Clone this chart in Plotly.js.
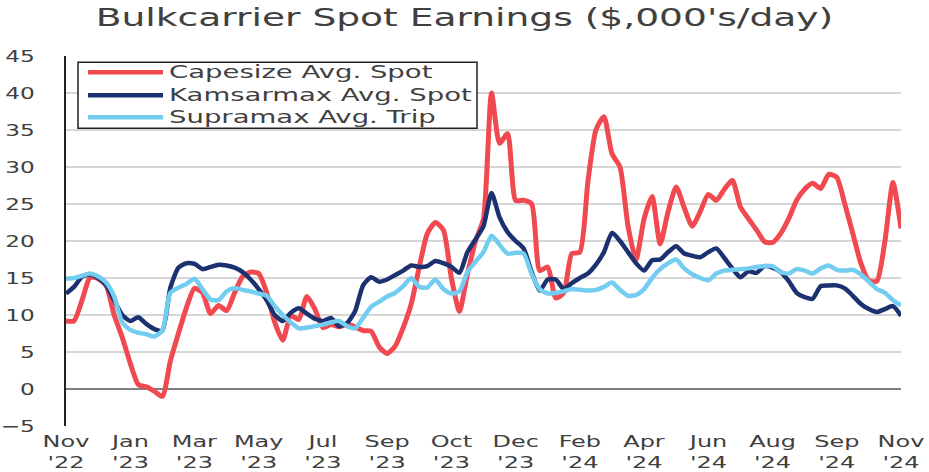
<!DOCTYPE html>
<html>
<head>
<meta charset="utf-8">
<script src="https://cdn.plot.ly/plotly-3.0.1.min.js"></script>
<style>html,body{margin:0;padding:0;background:#fff;}#chart{width:929px;height:472px;}</style>
</head>
<body>
<div id="chart"></div>
<script>
// weekly observations, Nov 2022 .. Nov 2024 (index = week number)
const capesize = [9.2,9.2,12.0,15.1,14.9,14.0,10.0,7.0,3.5,0.6,0.3,-0.3,-1.0,3.8,7.5,11.0,13.6,13.0,10.2,11.3,10.6,13.0,15.2,15.8,15.6,13.0,9.0,6.6,9.9,9.4,12.5,10.8,8.3,8.7,8.4,8.7,8.4,7.9,7.8,5.7,4.8,5.8,8.3,11.5,16.5,21.0,22.5,21.5,15.0,10.5,15.5,20.0,23.0,40.0,33.2,34.5,25.5,25.5,25.0,16.0,16.5,12.3,13.0,18.3,18.5,28.0,35.0,36.8,31.8,30.0,22.0,17.5,23.0,26.0,19.6,24.0,27.3,24.5,22.0,24.0,26.3,25.5,27.0,28.2,24.6,23.0,21.5,19.9,19.8,21.0,23.0,25.5,27.0,27.8,27.1,29.0,28.6,25.0,21.0,17.0,14.6,14.6,20.0,27.9,21.7];
const kamsarmax = [12.9,13.8,15.2,15.5,15.0,14.0,12.0,10.0,9.2,9.7,8.8,8.1,7.9,13.7,16.4,17.0,16.9,16.2,16.5,16.8,16.7,16.4,15.8,14.8,13.5,12.0,10.0,9.2,10.3,10.9,10.2,9.5,9.2,9.6,8.5,8.9,10.5,14.0,15.1,14.5,14.8,15.4,16.0,16.7,16.5,16.6,17.3,17.0,16.5,15.7,18.5,20.2,22.0,26.5,23.2,21.2,20.0,19.0,15.8,13.3,14.8,14.8,13.5,14.3,15.0,15.6,16.8,18.5,21.1,20.0,18.5,17.0,16.0,17.4,17.5,18.5,19.3,18.3,18.0,17.8,18.5,19.0,17.7,16.3,15.1,15.9,15.7,16.6,16.4,15.8,14.6,13.0,12.4,12.2,13.9,14.0,14.0,13.6,12.6,11.5,10.8,10.4,10.8,11.2,9.9];
const supramax = [14.9,15.0,15.3,15.6,15.2,14.4,12.5,9.0,8.0,7.6,7.4,7.1,7.9,13.0,13.7,14.2,14.9,13.5,12.1,12.0,13.2,13.6,13.4,13.2,12.9,12.6,11.2,10.0,9.0,8.2,8.3,8.5,8.7,9.0,9.2,8.5,8.2,9.6,11.1,11.8,12.5,13.0,13.9,15.0,13.8,13.7,14.8,13.5,12.9,13.2,15.8,17.2,18.5,20.7,19.5,18.3,18.4,18.3,15.5,13.5,12.9,13.0,13.2,13.5,13.4,13.3,13.4,13.8,14.4,13.4,12.6,12.7,13.5,15.0,16.2,17.0,17.5,16.3,15.5,15.0,14.7,15.6,16.0,16.1,16.2,16.3,16.5,16.6,16.6,15.8,15.6,16.2,16.0,15.6,16.3,16.7,16.1,16.0,16.1,15.5,14.5,13.5,13.0,12.0,11.3];
const tickWeeks = [0,8,16,24,32,40,48,56,64,72,80,88,96,104];
const tickLabels = ["Nov<br>'22","Jan<br>'23","Mar<br>'23","May<br>'23","Jul<br>'23","Sep<br>'23","Oct<br>'23","Dec<br>'23","Feb<br>'24","Apr<br>'24","Jun<br>'24","Aug<br>'24","Sep<br>'24","Nov<br>'24"];
const seriesNames = ["Capesize Avg. Spot","Kamsarmax Avg. Spot","Supramax Avg. Trip"];
const seriesColors = ["#f04a50","#1c3170","#72cdf0"];

const weeks = capesize.map((_, i) => i);
const allSeries = [capesize, kamsarmax, supramax];
const FONT = "DejaVu Sans, sans-serif";

const traces = allSeries.map((ys, k) => ({
  x: weeks, y: ys, type: 'scatter', mode: 'lines', name: seriesNames[k],
  line: {color: seriesColors[k], width: k === 0 ? 5 : 4.5, shape: 'spline', smoothing: 0.6},
  showlegend: false, hoverinfo: 'skip'
}));

// custom legend (px -> paper)
const L = 66, R = 901, T = 55.7, B = 425.7;
const px = v => (v - L) / (R - L);
const py = v => (B - v) / (B - T);
const shapes = [
  {type:'rect', xref:'paper', yref:'paper', x0:px(78), x1:px(477), y0:py(128), y1:py(62),
   line:{color:'#222', width:1.5}, fillcolor:'#fff', layer:'above'}
];
const annotations = [];
const rows = [72, 95, 117];
seriesNames.forEach((n, k) => {
  shapes.push({type:'line', xref:'paper', yref:'paper', x0:px(88), x1:px(163), y0:py(rows[k]), y1:py(rows[k]),
    line:{color:seriesColors[k], width:4.5}, layer:'above'});
  annotations.push({xref:'paper', yref:'paper', x:px(167), y:py(rows[k]), xanchor:'left', yanchor:'middle',
    text:n, showarrow:false, font:{family:FONT, size:17, color:'#404040'}});
});

const layout = {
  width: 929, height: 472,
  margin: {l: L, r: 929 - R, t: T, b: 472 - B},
  paper_bgcolor: '#fff', plot_bgcolor: '#fff',
  title: {text: "Bulkcarrier Spot Earnings ($,000's/day)", x: 0.5, xanchor: 'center', y: 0.962, yanchor: 'middle',
          font: {family: FONT, size: 24, color: '#404040'}},
  xaxis: {range: [0, 104], tickmode: 'array', tickvals: tickWeeks, ticktext: tickLabels,
          showgrid: false, zeroline: false, showline: false, ticks: '',
          tickfont: {family: FONT, size: 16, color: '#404040'}, ticklabelstandoff: 4},
  yaxis: {range: [-5, 45], tickmode: 'linear', tick0: -5, dtick: 5,
          showgrid: true, gridcolor: '#d6d6d6', gridwidth: 1.5,
          zeroline: true, zerolinecolor: '#808080', zerolinewidth: 2,
          showline: true, linecolor: '#222', linewidth: 2, ticks: '',
          tickfont: {family: FONT, size: 16, color: '#404040'}, ticklabelstandoff: 26},
  shapes: shapes, annotations: annotations, showlegend: false
};

// horizontally widen text to mimic the reference's wide typeface
function widen(el, s, where) {
  const bb = el.getBBox();
  const ax = where === 'left' ? bb.x : where === 'right' ? bb.x + bb.width : bb.x + bb.width / 2;
  const old = el.getAttribute('transform') || '';
  el.setAttribute('transform', (old + ` translate(${ax},0) scale(${s},1) translate(${-ax},0)`).trim());
}

Plotly.newPlot('chart', traces, layout, {displayModeBar: false, staticPlot: true}).then(gd => {
  const t = gd.querySelector('.gtitle');
  if (t) widen(t, 738 / t.getBBox().width, 'center');
  gd.querySelectorAll('.xtick text').forEach(el => widen(el, 1.5, 'center'));
  gd.querySelectorAll('.ytick text').forEach(el => widen(el, 1.45, 'right'));
  const ann = gd.querySelectorAll('.annotation-text');
  if (ann.length) {
    const s = 264 / ann[0].getBBox().width;
    ann.forEach(el => widen(el, s, 'left'));
  }
});
</script>
</body>
</html>
